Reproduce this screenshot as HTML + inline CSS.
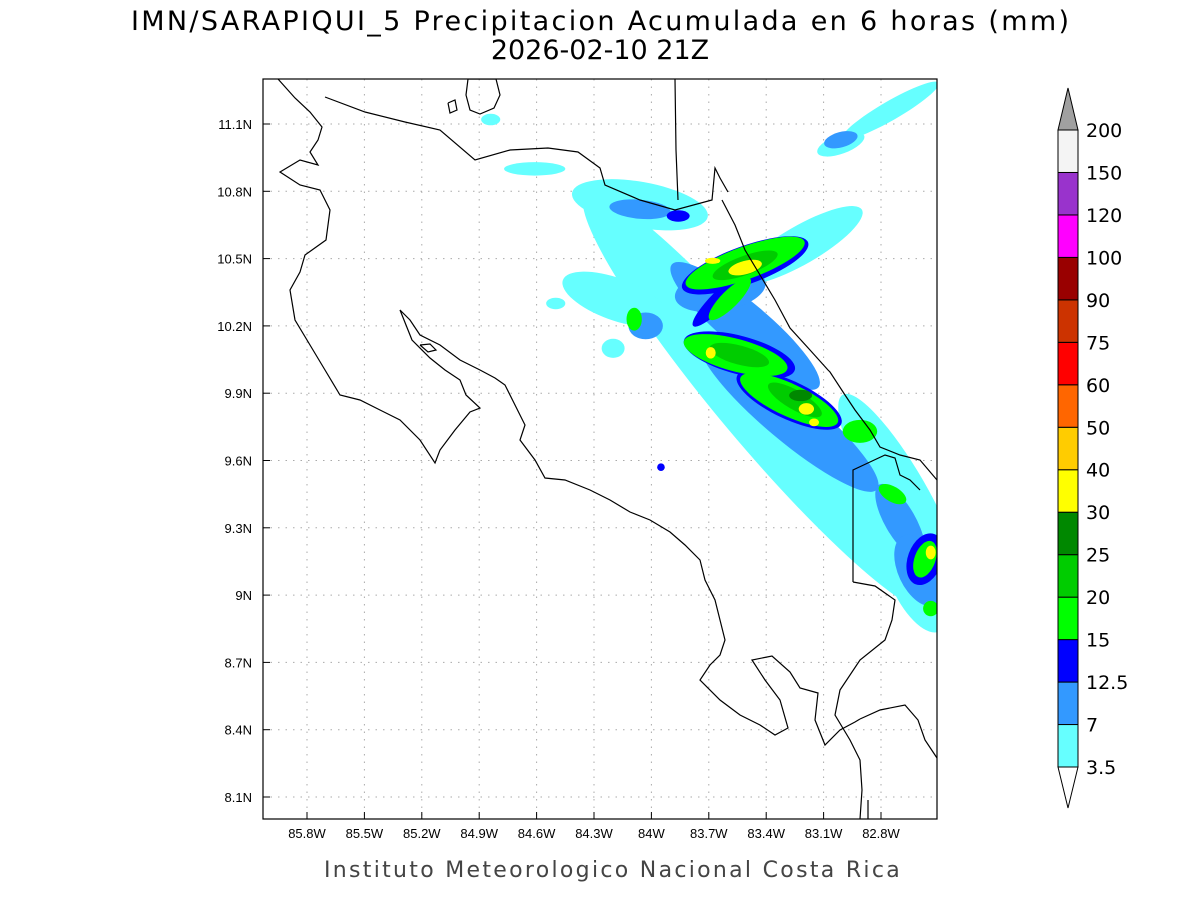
<!DOCTYPE html>
<html><head><meta charset="utf-8">
<style>
body{margin:0;background:#fff;}
svg{display:block;font-family:"Liberation Sans",sans-serif;}
</style></head>
<body>
<svg id="chart" width="1200" height="900" viewBox="0 0 1200 900">
<text x="600" y="30" text-anchor="middle" font-size="27" font-family="DejaVu Sans" textLength="938">IMN/SARAPIQUI_5 Precipitacion Acumulada en 6 horas (mm)</text>
<text x="600" y="59" text-anchor="middle" font-size="27" font-family="DejaVu Sans">2026-02-10 21Z</text>
<defs><clipPath id="clip"><rect x="263" y="79" width="674" height="740"/></clipPath></defs>
<g id="grid"></g>
<g id="precip" clip-path="url(#clip)"></g>
<g clip-path="url(#clip)" fill="none" stroke="#000" stroke-width="1.2">
<polyline points="278,79 295,98 310,112 322,127 318,140 310,152 318,165 300,160 280,172 300,185 320,190 330,210 326,240 305,255 300,272 290,290 295,320 310,345 325,370 340,395 360,400 380,410 400,420 420,440 435,463 440,450 455,430 470,412 480,408 466,395 460,380 445,370 430,358 412,340 400,310 410,320 420,335 440,345 460,360 480,370 495,378 505,385 515,405 525,425 520,440 535,460 545,478 565,480 590,490 610,500 630,512 650,520 670,532 685,545 700,560 705,580 715,600 720,620 725,640 720,655 710,665 700,680 720,700 740,715 760,725 775,735 788,728 780,700 765,680 752,660 772,656 790,672 800,688 818,693 815,720 825,745 840,730 855,722 860,719"/>
<polyline points="420,345 428,352 436,350 430,344 420,345"/>
<polyline points="325,97 365,112 405,122 440,130 475,160 510,150 548,148 578,152 600,168 605,185 640,200 675,210 712,200 715,168 720,178 728,192"/>
<polyline points="675,79 676,150 678,200"/>
<polyline points="722,200 735,225 745,250 760,275 775,300 790,328 810,350 828,370 830,372 845,395 855,410 870,430 880,447 900,455 920,460 937,480"/>
<polyline points="468,79 496,79 500,95 494,108 480,114 470,110 466,95 468,79"/>
<polyline points="448,103 455,100 457,110 450,113 448,103"/>
<polyline points="860,719 880,710 905,705 918,720 925,740 937,758"/>
<polyline points="853,582 853,470 870,462 885,455 895,458 900,475 910,480 920,490"/>
<polyline points="853,582 875,586 895,600 892,620 885,640 860,660 840,690 835,715 850,740 860,760 862,790 860,819"/>
<polyline points="868,819 868,800"/>
</g>
<rect x="263" y="79" width="674" height="740" fill="none" stroke="#000" stroke-width="1.2"/>
<g id="axes" font-size="13"></g>
<g id="cbar"></g>
<text x="613" y="877" text-anchor="middle" font-size="22" font-family="DejaVu Sans" fill="#444" letter-spacing="2.3">Instituto Meteorologico Nacional Costa Rica</text>
</svg>
<script>
const lonTicks=[-85.8,-85.5,-85.2,-84.9,-84.6,-84.3,-84.0,-83.7,-83.4,-83.1,-82.8];
const latTicks=[11.1,10.8,10.5,10.2,9.9,9.6,9.3,9.0,8.7,8.4,8.1];
const levels=[3.5,7,12.5,15,20,25,30,40,50,60,75,90,100,120,150,200];
const levelColors=["#66ffff","#3399ff","#0000ff","#00ff00","#00cc00","#008800","#ffff00","#ffcc00","#ff6600","#ff0000","#cc3300","#990000","#ff00ff","#9933cc","#f4f4f4"];
// blobs: [lon, lat, mm, semiAxisA(deg), semiAxisB(deg), angle]
const cyanBlobs=[[-83.43,9.86,5,1.42,0.22,50],[-84.06,10.74,5,0.36,0.12,10],[-84.19,10.32,5,0.29,0.11,20],[-82.70,9.45,5,0.6,0.14,60],[-82.75,11.16,5,0.29,0.05,-30],[-83.01,11.01,5,0.13,0.05,-20],[-84.61,10.90,5,0.16,0.035,0],[-84.84,11.12,5,0.05,0.03,0],[-83.22,10.56,5,0.37,0.1,-30],[-82.62,9.07,5,0.3,0.13,65],[-84.5,10.3,5,0.05,0.03,0],[-84.2,10.1,5,0.06,0.05,0]];
const blueBlobs=[[-83.51,10.2,9,0.5,0.12,40],[-83.28,9.8,9,0.6,0.13,40],[-84.06,10.72,9,0.16,0.05,5],[-83.01,11.03,9,0.09,0.04,-15],[-82.70,9.33,9,0.22,0.08,60],[-82.6,9.11,9,0.2,0.11,65],[-84.03,10.20,9,0.09,0.07,0],[-83.64,10.36,9,0.24,0.11,-10]];
const darkBlueBlobs=[[-83.86,10.69,13,0.06,0.03,0],[-83.51,10.47,13,0.35,0.1,-20],[-83.54,10.07,13,0.3,0.1,15],[-83.28,9.87,13,0.3,0.1,25],[-83.64,10.32,13,0.2,0.045,-45],[-82.57,9.16,13,0.09,0.14,20],[-83.95,9.57,13,0.02,0.02,0]];
const greenBlobs=[[-83.51,10.48,17,0.33,0.085,-20],[-83.56,10.07,17,0.28,0.085,15],[-83.28,9.87,17,0.28,0.085,25],[-83.59,10.32,17,0.15,0.045,-45],[-82.91,9.73,17,0.09,0.06,0],[-84.09,10.23,17,0.04,0.06,0],[-82.57,9.16,17,0.055,0.1,20],[-82.74,9.45,17,0.08,0.04,30],[-82.54,8.94,17,0.04,0.04,0]];
const midGreenBlobs=[[-83.51,10.47,22,0.18,0.05,-20],[-83.54,10.07,22,0.16,0.05,15],[-83.25,9.87,22,0.16,0.05,30]];
const darkGreenBlobs=[[-83.22,9.89,27,0.06,0.03,0]];
const yellowBlobs=[[-83.51,10.46,35,0.09,0.035,-15],[-83.68,10.49,35,0.04,0.016,0],[-83.69,10.08,35,0.026,0.03,0],[-83.19,9.83,35,0.04,0.03,0],[-83.15,9.77,35,0.026,0.02,0],[-82.54,9.19,35,0.026,0.036,0]];

const NS="http://www.w3.org/2000/svg";
const x0=307,xPerDeg=57.4/0.3,y0=124,yPerDeg=67.3/0.3;
function xScale(lon){return x0+(lon-(-85.8))*xPerDeg;}
function yScale(lat){return y0+(11.1-lat)*yPerDeg;}
function mk(tag,attrs,parent){const e=document.createElementNS(NS,tag);for(const k in attrs)e.setAttribute(k,attrs[k]);parent.appendChild(e);return e;}
function colorFor(v){for(let i=levels.length-2;i>=0;i--)if(v>=levels[i])return levelColors[i];return "none";}

const grid=document.getElementById('grid');
const axes=document.getElementById('axes');
lonTicks.forEach(l=>{
  const x=xScale(l);
  const g=mk('line',{x1:x,x2:x,y1:79,y2:819,stroke:'#aaa','stroke-dasharray':'1.5,6'},grid);
  
  
  const t=mk('line',{x1:x,x2:x,y1:819,y2:812,stroke:'#000'},axes);
  
  
  const tx=mk('text',{x:x,y:838,'text-anchor':'middle'},axes);
  tx.textContent=(+(-l).toFixed(1))+'W';
  
  
});
latTicks.forEach(l=>{
  const y=yScale(l);
  const g=mk('line',{x1:263,x2:937,y1:y,y2:y,stroke:'#aaa','stroke-dasharray':'1.5,6'},grid);
  
  
  const t=mk('line',{x1:263,x2:270,y1:y,y2:y,stroke:'#000'},axes);
  
  
  const tx=mk('text',{x:252,y:y+5,'text-anchor':'end'},axes);
  tx.textContent=(+l.toFixed(1))+'N';
  
  
});

const precip=document.getElementById('precip');
[cyanBlobs,blueBlobs,darkBlueBlobs,greenBlobs,midGreenBlobs,darkGreenBlobs,yellowBlobs].forEach(set=>{
  set.forEach(b=>{
    const cx=xScale(b[0]),cy=yScale(b[1]);
    const e=mk('ellipse',{cx:cx,cy:cy,rx:b[3]*xPerDeg,ry:b[4]*xPerDeg,fill:colorFor(b[2]),transform:`rotate(${b[5]} ${cx} ${cy})`},precip);
    
    
  });
});

const cbar=document.getElementById('cbar');
const cbX=1058,cbW=20,cbTop=130,cbBot=767;
const boxH=(cbBot-cbTop)/levelColors.length;
levelColors.forEach((c,i)=>{
  const y=cbBot-(i+1)*boxH;
  const r=mk('rect',{x:cbX,y:y,width:cbW,height:boxH,fill:c,stroke:'#000','stroke-width':1},cbar);
  
  
});
const up=mk('polygon',{points:`${cbX},${cbTop} ${cbX+cbW},${cbTop} ${cbX+cbW/2},88`,fill:'#a0a0a0',stroke:'#000'},cbar);


const dn=mk('polygon',{points:`${cbX},${cbBot} ${cbX+cbW},${cbBot} ${cbX+cbW/2},808`,fill:'#fff',stroke:'#000'},cbar);


levels.forEach((v,i)=>{
  const y=cbBot-i*boxH;
  const t=mk('text',{x:1086,y:y+7,'font-size':19,'font-family':'DejaVu Sans'},cbar);
  t.textContent=v;
  
  
});
</script>
</body></html>
